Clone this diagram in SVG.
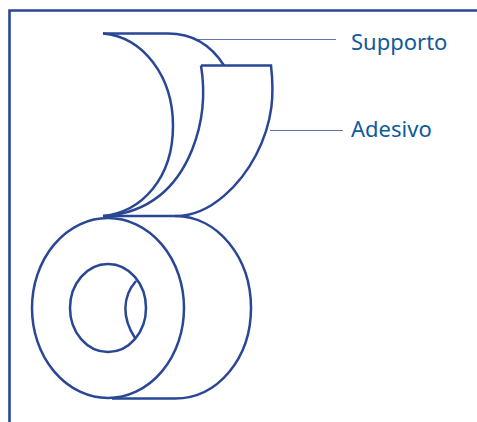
<svg xmlns="http://www.w3.org/2000/svg" width="477" height="422" viewBox="0 0 477 422">
<style>
.s{fill:none;stroke:#2a4796;stroke-width:2.5;stroke-linecap:butt}
.t{fill:none;stroke:#2a4796;stroke-width:1.2;opacity:.75}
.f{fill:none;stroke:#2a4796;stroke-width:2.6}
text{font-family:"Noto Sans","Open Sans",sans-serif;font-size:22px;fill:#0f5a9c}
</style>
<rect width="477" height="422" fill="#fff"/>
<g id="frame"><path class="f" d="M477 10.500H9.500V422"/></g>
<g id="strip">
<path class="s" d="M103 33.500H168C192 33.500 211 45 224 65.500"/>
<path class="s" d="M103 33.500C143 37 173 76 173 126C173 178 142 212 103 216"/>
<path class="s" d="M201 65.500H271C274 92 274 120 256 155C242 182 212 216 176 216H103"/>
<path class="s" d="M201 65.500C205 90 204 120 192 150C175 192 146 212 107 216"/>
</g>
<g id="roll">
<ellipse class="s" cx="108" cy="308" rx="76" ry="90"/>
<ellipse class="s" cx="108" cy="308" rx="38" ry="44"/>
<path class="s" d="M136 281C122 297 122 318 135 338"/>
<path class="s" d="M175 216C218 216 251 258 251 308C251 358 218 398.500 175 398.500H112"/>
</g>
<g id="connectors">
<path class="t" d="M195 39.500H336"/>
<path class="t" d="M270 130.500H343"/>
</g>
<g id="label-supporto"><text x="351" y="50">Supporto</text></g>
<g id="label-adesivo"><text x="351" y="137">Adesivo</text></g>
</svg>
